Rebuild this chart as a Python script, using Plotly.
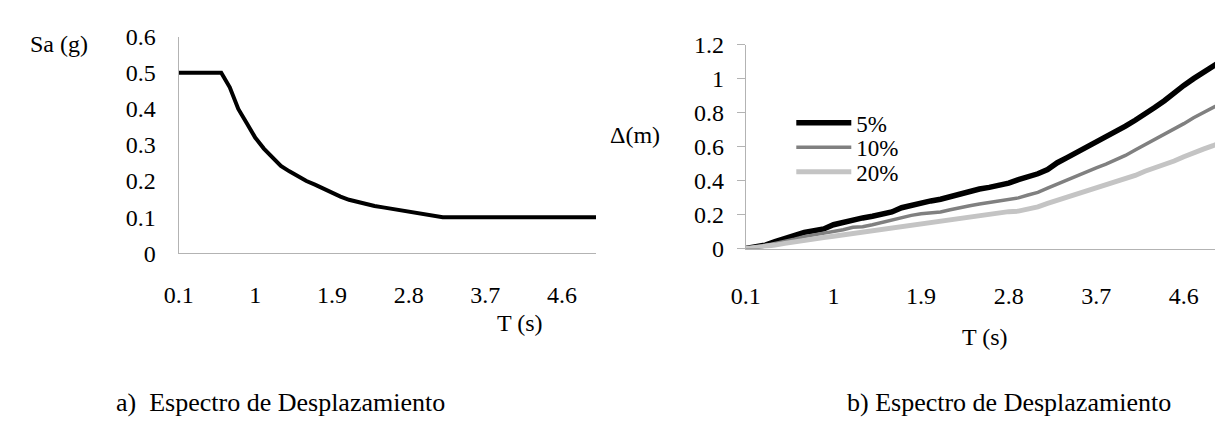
import plotly.graph_objects as go

W, H = 1215, 429

# Periods (categories), as in the spreadsheet
T_LABELS = ["0.1", "0.2", "0.3", "0.4", "0.5", "0.6", "0.7", "0.8", "0.9", "1",
            "1.1", "1.2", "1.3", "1.4", "1.5", "1.6", "1.7", "1.8", "1.9", "2",
            "2.1", "2.2", "2.3", "2.4", "2.5", "2.6", "2.7", "2.8", "2.9", "3",
            "3.1", "3.2", "3.3", "3.4", "3.5", "3.6", "3.7", "3.8", "3.9", "4",
            "4.1", "4.2", "4.3", "4.4", "4.5", "4.6", "4.7", "4.8", "4.9", "5"]

TICK_LABELS = ["0.1", "1", "1.9", "2.8", "3.7", "4.6"]

# a) Sa (g)
SA = [0.50, 0.50, 0.50, 0.50, 0.50, 0.50, 0.46, 0.40, 0.36, 0.32,
      0.29, 0.265, 0.242, 0.227, 0.213, 0.200, 0.190, 0.178, 0.167, 0.157,
      0.148, 0.142, 0.137, 0.131, 0.127, 0.123, 0.118, 0.115, 0.110, 0.106,
      0.102, 0.10, 0.10, 0.10, 0.10, 0.10, 0.10, 0.10, 0.10, 0.10,
      0.10, 0.10, 0.10, 0.10, 0.10, 0.10, 0.10, 0.10, 0.10, 0.10]

# b) Displacement (m) for damping 5%, 10%, 20%
D5 = [0.00, 0.01, 0.02, 0.04, 0.06, 0.08, 0.095, 0.105, 0.115, 0.14,
      0.155, 0.17, 0.18, 0.19, 0.20, 0.215, 0.24, 0.255, 0.265, 0.28,
      0.29, 0.305, 0.325, 0.34, 0.35, 0.36, 0.37, 0.385, 0.405, 0.42,
      0.44, 0.465, 0.505, 0.535, 0.565, 0.60, 0.625, 0.66, 0.69, 0.72,
      0.755, 0.79, 0.83, 0.87, 0.92, 0.96, 1.00, 1.04, 1.075, 1.11]
D10 = [0.00, 0.008, 0.018, 0.03, 0.04, 0.055, 0.07, 0.08, 0.09, 0.097,
       0.11, 0.125, 0.128, 0.14, 0.155, 0.165, 0.18, 0.195, 0.205, 0.212,
       0.215, 0.228, 0.242, 0.252, 0.262, 0.272, 0.283, 0.293, 0.298, 0.315,
       0.33, 0.355, 0.38, 0.405, 0.425, 0.45, 0.475, 0.497, 0.52, 0.548,
       0.58, 0.61, 0.64, 0.67, 0.705, 0.735, 0.77, 0.80, 0.83, 0.86]
D20 = [0.00, 0.005, 0.012, 0.02, 0.03, 0.04, 0.05, 0.058, 0.065, 0.072,
       0.08, 0.094, 0.097, 0.105, 0.115, 0.12, 0.13, 0.14, 0.145, 0.153,
       0.163, 0.168, 0.18, 0.188, 0.193, 0.203, 0.212, 0.217, 0.22, 0.23,
       0.245, 0.265, 0.283, 0.30, 0.315, 0.335, 0.352, 0.37, 0.39, 0.41,
       0.43, 0.455, 0.475, 0.49, 0.515, 0.54, 0.565, 0.585, 0.605, 0.63]

SERIES_NAMES = ["5%", "10%", "20%"]

FONT = "Liberation Serif"
AX = "#b3b3b3"


def px_x(p):
    return p / W


def px_y(p):
    return 1 - p / H


fig = go.Figure()

fig.add_trace(go.Scatter(x=T_LABELS, y=SA, mode="lines", xaxis="x", yaxis="y",
                         line=dict(color="black", width=4), showlegend=False))

fig.add_trace(go.Scatter(x=T_LABELS, y=D5, mode="lines", xaxis="x2", yaxis="y2",
                         name=SERIES_NAMES[0], legend="legend",
                         line=dict(color="black", width=5.5)))
fig.add_trace(go.Scatter(x=T_LABELS, y=D10, mode="lines", xaxis="x2", yaxis="y2",
                         name=SERIES_NAMES[1], legend="legend2",
                         line=dict(color="#808080", width=3.5)))
fig.add_trace(go.Scatter(x=T_LABELS, y=D20, mode="lines", xaxis="x2", yaxis="y2",
                         name=SERIES_NAMES[2], legend="legend3",
                         line=dict(color="#c4c4c4", width=5)))

tickfont = dict(family=FONT, size=24, color="black")


def leg(yc):
    return dict(x=px_x(786), y=px_y(yc), xanchor="left", yanchor="middle",
                bgcolor="rgba(0,0,0,0)", font=dict(family=FONT, size=23, color="black"),
                itemwidth=55, borderwidth=0)


fig.update_layout(
    width=W, height=H,
    margin=dict(l=0, r=0, t=0, b=0),
    paper_bgcolor="white", plot_bgcolor="white",
    font=dict(family=FONT, size=24, color="black"),
    xaxis=dict(domain=[px_x(165.7), px_x(588.3)], type="category",
               categoryorder="array", categoryarray=T_LABELS,
               range=[0, len(T_LABELS) - 1], tickmode="array",
               tickvals=TICK_LABELS, ticktext=TICK_LABELS,
               showline=True, linecolor=AX, linewidth=1, showgrid=False,
               zeroline=False, ticks="", tickfont=tickfont,
               ticklabelstandoff=20, anchor="y"),
    yaxis=dict(domain=[px_y(255.7), px_y(25.3)], range=[0, 0.6],
               tickmode="array", tickvals=[0, 0.1, 0.2, 0.3, 0.4, 0.5, 0.6],
               ticktext=["0", "0.1", "0.2", "0.3", "0.4", "0.5", "0.6"],
               showline=True, linecolor=AX, linewidth=1, showgrid=False,
               zeroline=False, ticks="", tickfont=tickfont,
               ticklabelstandoff=17, anchor="x"),
    xaxis2=dict(domain=[px_x(740), 1.0], type="category",
                categoryorder="array", categoryarray=T_LABELS,
                range=[0, 48.2], tickmode="array",
                tickvals=TICK_LABELS, ticktext=TICK_LABELS,
                showline=True, linecolor=AX, linewidth=1, showgrid=False,
                zeroline=False, ticks="", tickfont=tickfont,
                ticklabelstandoff=26, anchor="y2"),
    yaxis2=dict(domain=[px_y(250.7), px_y(33.7)], range=[0, 1.2],
                tickmode="array", tickvals=[0, 0.2, 0.4, 0.6, 0.8, 1.0, 1.2],
                ticktext=["0", "0.2", "0.4", "0.6", "0.8", "1", "1.2"],
                showline=True, linecolor=AX, linewidth=1, showgrid=False,
                zeroline=False, ticks="outside", ticklen=8, tickcolor=AX,
                tickfont=tickfont, ticklabelstandoff=8, anchor="x2"),
    legend=leg(117),
    legend2=leg(143),
    legend3=leg(169),
    showlegend=True,
)

ann = dict(xref="paper", yref="paper", showarrow=False,
           font=dict(family=FONT, size=24, color="black"))
fig.add_annotation(text="Sa (g)", x=px_x(44.5), y=px_y(33), xanchor="center", yanchor="middle", **ann)
fig.add_annotation(text="T (s)", x=px_x(511.7), y=px_y(330), xanchor="center", yanchor="middle", **ann)
fig.add_annotation(text="Δ(m)", x=px_x(628), y=px_y(130), xanchor="center", yanchor="middle", **ann)
fig.add_annotation(text="T (s)", x=px_x(982), y=px_y(345), xanchor="center", yanchor="middle", **ann)

cap = dict(ann)
cap["font"] = dict(family=FONT, size=26, color="black")
fig.add_annotation(text="a)  Espectro de Desplazamiento", x=px_x(100), y=px_y(415),
                   xanchor="left", yanchor="middle", **cap)
fig.add_annotation(text="b) Espectro de Desplazamiento", x=px_x(1172), y=px_y(415),
                   xanchor="right", yanchor="middle", **cap)

fig.write_html("out.html")
